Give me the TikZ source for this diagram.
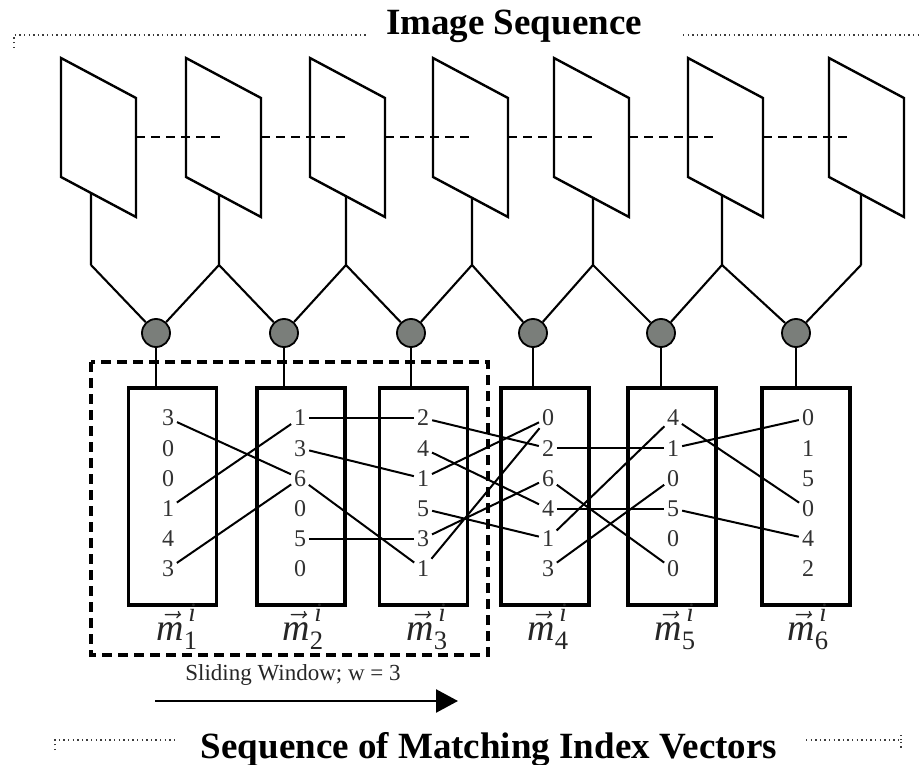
\RequirePackage{fix-cm}
\documentclass[tikz,border=0pt]{standalone}
\usepackage{fontspec}
\setmainfont{Liberation Serif}
\usepackage{amsmath}
\usetikzlibrary{arrows.meta,calc}

\definecolor{hubgray}{RGB}{122,126,122}
\definecolor{digitgray}{RGB}{50,50,50}
\definecolor{dotgray}{RGB}{60,60,60}

\begin{document}
\begin{tikzpicture}[x=1pt,y=-1pt,
  frame/.style={draw=black,fill=white,line width=2.4pt,line join=miter},
  sightline/.style={line width=2.2pt,dash pattern=on 9pt off 6pt},
  wire/.style={line width=2.1pt},
  hub/.style={circle,draw=black,fill=hubgray,line width=1.8pt,minimum size=28pt,inner sep=0pt},
  vecbox/.style={draw=black,line width=3.2pt,minimum width=88pt,minimum height=217pt,inner sep=0pt},
  idx/.style={font=\fontsize{24}{26}\selectfont,text=digitgray,inner sep=1pt},
  link/.style={line width=2pt,shorten <=2pt,shorten >=2pt},
  vlabel/.style={font=\fontsize{38}{42}\selectfont,text=black!85,anchor=base,inner sep=0pt},
  window/.style={line width=3.5pt,dash pattern=on 10pt off 6pt},
  dotted rule/.style={draw=dotgray,line width=1.3pt,dash pattern=on 1.3pt off 3.3pt},
  heading/.style={font=\fontsize{37}{40}\selectfont\bfseries,anchor=base,inner sep=0pt},
  caption/.style={font=\fontsize{23}{25}\selectfont,anchor=base,inner sep=0pt,text=black!85}
]
\useasboundingbox (0,0) rectangle (922,765);

% image frames with their stems
\foreach \k/\xl/\xs in {1/61/91,2/186/219,3/310/346,4/433/472,5/554/593,6/688/722,7/829/861}{
  \coordinate (f\k-tl) at (\xl,58);
  \coordinate (f\k-tr) at (\xl+75,98);
  \coordinate (f\k-br) at (\xl+75,217);
  \coordinate (f\k-bl) at (\xl,177);
  \coordinate (f\k-m) at (\xl+75,137);
  \draw[frame] (f\k-tl) -- (f\k-tr) -- (f\k-br) -- (f\k-bl) -- cycle;
  \coordinate (f\k-s) at ($(f\k-bl)!{(\xs-\xl)/75}!(f\k-br)$);
  \coordinate (j\k) at (\xs,265);
  \draw[wire] (f\k-s) -- (j\k);
}

% dashed sight line through the frames
\foreach \k/\e in {1/220,2/348,3/472,4/595,5/718,6/850}{
  \coordinate (d\k) at (\e,137);
  \draw[sightline] (f\k-m) -- (d\k);
}

% matching hubs
\foreach \k/\x in {1/156,2/284,3/411,4/533,5/661,6/796}
  \node[hub] (c\k) at (\x,333) {};
\foreach \k [evaluate=\k as \n using int(\k+1)] in {1,...,6}{
  \draw[wire] (j\k) -- (c\k);
  \draw[wire] (j\n) -- (c\k);
}

% index vector boxes
\foreach \k/\x in {1/172.5,2/301,3/423.5,4/545,5/672,6/806}{
  \node[vecbox] (b\k) at (\x,496.5) {};
  \draw[wire] (c\k.south) -- (c\k.south |- b\k.north);
}

% index entries
\foreach \k/\x/\vals in {1/168/{3,0,0,1,4,3},2/300/{1,3,6,0,5,0},3/423/{2,4,1,5,3,1},
                         4/548/{0,2,6,4,1,3},5/673/{4,1,0,5,0,0},6/808/{0,1,5,0,4,2}}{
  \foreach \v [count=\r] in \vals
    \node[idx] (n\k-\r) at (\x,{418+30.2*(\r-1)}) {\v};
}

% correspondences between neighbouring vectors
\foreach \a/\b in {1-1/2-3,1-4/2-1,1-6/2-3,
                   2-1/3-1,2-2/3-3,2-3/3-6,2-5/3-5,
                   3-1/4-2,3-2/4-4,3-3/4-1,3-4/4-5,3-5/4-3,3-6/4-1,
                   4-2/5-2,4-3/5-6,4-4/5-4,4-5/5-1,4-6/5-3,
                   5-1/6-4,5-2/6-1,5-4/6-5}
  \draw[link] (n\a) -- (n\b);

% vector names
\foreach \k/\x in {1/177,2/303,3/427,4/548,5/675,6/808}
  \node[vlabel] (l\k) at (\x,640)
    {$\vec{\text{\itshape m}}^{\,\text{\itshape i}}_{\text{\k}}$};

% sliding window
\draw[window] (91,362) rectangle (488,655);
\node[caption] (swtext) at (293,680) {Sliding Window; w = 3};
\coordinate (sw-a) at (155,701);
\coordinate (sw-b) at (458,701);
\draw[line width=2.5pt,-{Triangle[length=22pt,width=23pt]}] (sw-a) -- (sw-b);

% headings with dotted rules
\node[heading] (top) at (514,35) {Image Sequence};
\draw[dotted rule] (14,48) -- (14,35) -- (367,35);
\draw[dotted rule] (683,35) -- (922,35);
\node[heading] (bottom) at (489,758) {Sequence of Matching Index Vectors};
\draw[dotted rule] (55,750) -- (55,740) -- (175,740);
\draw[dotted rule] (806,740) -- (901,740) -- (901,750);
\draw[dotted rule] (901,740) -- (901,735);
\end{tikzpicture}
\end{document}
